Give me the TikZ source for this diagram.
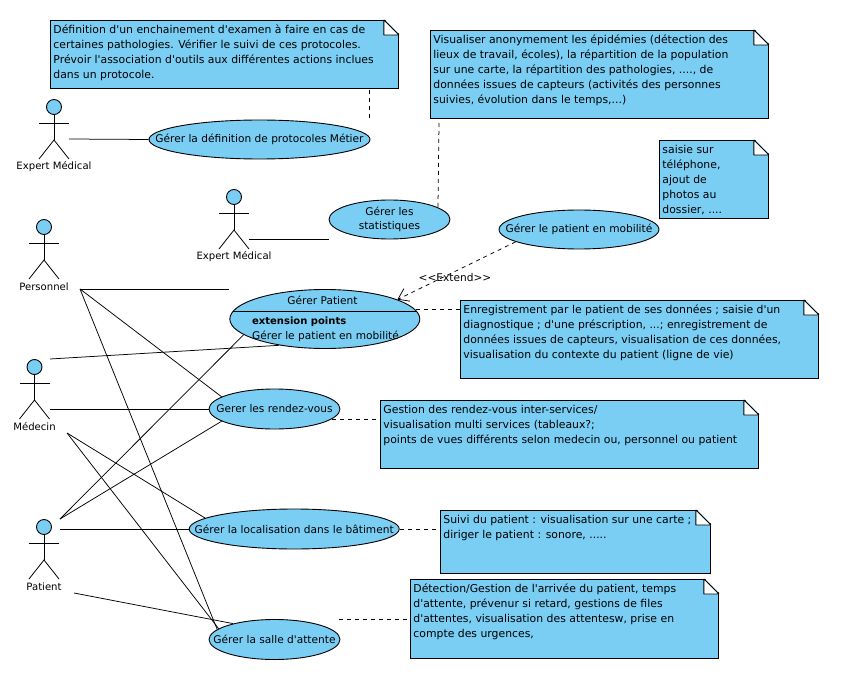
\documentclass[tikz,border=0pt]{standalone}
\usepackage{fontspec}
\newfontfamily\diafont{DejaVu Sans}
\usetikzlibrary{shapes.geometric,arrows.meta}
\definecolor{ucblue}{HTML}{7ACEF4}
\tikzset{
  txt/.style={font=\diafont\fontsize{10.6}{15}\selectfont,text=black},
  usecase/.style={ellipse,draw=black,fill=ucblue,line width=0.9pt,inner sep=0pt},
  casetext/.style={txt,inner sep=0pt,align=center},
  notebox/.style={rectangle,draw=black,fill=ucblue,line width=0.9pt,anchor=north west,inner sep=0pt,font=\diafont\fontsize{10.85}{15}\selectfont,text=black},
  fold/.style={draw=black,fill=white,line width=0.9pt,line join=bevel},
  link/.style={draw=black,line width=0.75pt},
  note link/.style={draw=black,line width=0.75pt,dash pattern=on 4pt off 4pt},
  head/.style={circle,draw=black,fill=ucblue,line width=0.9pt,minimum size=15pt,inner sep=0pt},
  actor line/.style={draw=black,line width=0.8pt},
  actor label/.style={font=\diafont\fontsize{10.1}{12}\selectfont,text=black,inner sep=0pt}
}
\newcommand{\actorfig}[4]{% name, x, head y, label
  \node[head] (#1) at (#2,#3) {};
  \draw[actor line] (#1.south) -- (#2,#3+33);
  \draw[actor line] (#2-15,#3+16) -- (#2+15,#3+16);
  \draw[actor line] (#2-15,#3+52) -- (#2,#3+33) -- (#2+15,#3+52);
  \node[actor label] (#1l) at (#2,#3+59.5) {#4};
}
\newcommand{\notefig}[6]{% name, x, y, w, h, text
  \node[notebox] (#1) at (#2,#3) {\hspace{3pt}\parbox[c][#5pt][t]{\dimexpr#4pt-3pt\relax}{\raggedright\rule{0pt}{13pt}#6}};
  \fill[white] (#1.north east) ++(-15,-1.5) -- ++(16.5,0) -- ++(0,16.5) -- cycle;
  \path[fold] (#1.north east) ++(-15,0) -- ++(15,15) -- ++(-15,0) -- cycle;
}
\newcommand{\casefig}[6]{% name, x, y, w, h, text
  \node[usecase,minimum width=#4pt,minimum height=#5pt] (#1) at (#2,#3) {};
  \node[casetext] (#1t) at (#1.center) {#6};
}
\begin{document}
\begin{tikzpicture}[x=1pt,y=-1pt]
\useasboundingbox (0,0) rectangle (856,687);
% notes
\notefig{n1}{50}{20}{348}{68}{Définition d'un enchainement d'examen à faire en cas de\\certaines pathologies. Vérifier le suivi de ces protocoles.\\Prévoir l'association d'outils aux différentes actions inclues\\dans un protocole.}
\notefig{n2}{430}{30}{338}{88}{Visualiser anonymement les épidémies (détection des\\lieux de travail, écoles), la répartition de la population\\sur une carte, la répartition des pathologies, ...., de\\données issues de capteurs (activités des personnes\\suivies, évolution dans le temps,...)}
\notefig{n3}{659}{140}{109}{78}{saisie sur\\téléphone,\\ajout de\\photos au\\dossier, ....}
\notefig{n4}{460}{300}{358}{78}{Enregistrement par le patient de ses données ; saisie d'un\\diagnostique ; d'une préscription, ...; enregistrement de\\données issues de capteurs, visualisation de ces données,\\visualisation du contexte du patient (ligne de vie)}
\notefig{n5}{380}{400}{378}{68}{Gestion des rendez-vous inter-services/\\visualisation multi services (tableaux?;\\points de vues différents selon medecin ou, personnel ou patient}
\notefig{n6}{440}{510}{270}{63}{Suivi du patient : visualisation sur une carte ;\\diriger le patient : sonore, .....}
\notefig{n7}{410}{579}{308}{79}{Détection/Gestion de l'arrivée du patient, temps\\d'attente, prévenur si retard, gestions de files\\d'attentes, visualisation des attentesw, prise en\\compte des urgences,}
% use cases
\casefig{e1}{259.5}{139.5}{221}{39}{Gérer la définition de protocoles Métier}
\casefig{e2}{389.5}{219.5}{121}{39}{Gérer les\\[-1pt]statistiques}
\casefig{e3}{579}{229.5}{160}{39}{Gérer le patient en mobilité}
\node[usecase,minimum width=190pt,minimum height=59pt] (e4) at (324.8,319) {};
\casefig{e5}{274.5}{409}{131}{40}{Gerer les rendez-vous}
\casefig{e6}{294.2}{529}{210}{40}{Gérer la localisation dans le bâtiment}
\casefig{e7}{274.5}{639.5}{131}{40}{Gérer la salle d'attente}
\draw[actor line] (e4.175) -- (e4.5);
\node[casetext] (e4a) at (322.5,300) {Gérer Patient};
\node[casetext,anchor=west,font=\diafont\fontsize{10}{15}\selectfont] (e4b) at (252,322) {\bfseries extension points};
\node[casetext,anchor=west] (e4c) at (252,336) {Gérer le patient en mobilité};
% actors
\actorfig{a1}{54}{107}{Expert Médical}
\actorfig{a2}{234}{197}{Expert Médical}
\actorfig{a3}{44}{227}{Personnel}
\actorfig{a4}{34.5}{367}{Médecin}
\actorfig{a5}{44}{527}{Patient}
% free ends
\coordinate (p1) at (69,139);
\coordinate (p2) at (249,239);
\coordinate (p3) at (80,289);
\coordinate (p3e) at (229,289);
\coordinate (m1) at (50,359);
\coordinate (m2) at (50,409);
\coordinate (m3) at (67,433);
\coordinate (t1) at (60,519);
\coordinate (t2) at (60,529);
\coordinate (t3) at (74,593);
\coordinate (d1) at (369.5,90);
\coordinate (d1e) at (369.5,120);
\coordinate (d2) at (439,123);
\coordinate (d4) at (460,309.3);
\coordinate (d4e) at (416,309.3);
\coordinate (d5) at (380,419.3);
\coordinate (d6) at (440,529);
\coordinate (d7) at (410,619);
\coordinate (d7e) at (339,619);
% associations
\draw[link] (p1) -- (e1.west);
\draw[link] (p2) -- (e2.west |- p2);
\draw[link] (p3) -- (p3e);
\draw[link] (p3) -- (e5.167.6);
\draw[link] (p3) -- (e7.170.6);
\draw[link] (m1) -- (e4.210.6);
\draw[link] (m2) -- (e5.west);
\draw[link] (m3) -- (e6.173.1);
\draw[link] (m3) -- (e7.169);
\draw[link] (t1) -- (e4.191.7);
\draw[link] (t1) -- (e5.193.4);
\draw[link] (t2) -- (e6.west);
\draw[link] (t3) -- (e7.159.5);
% note links
\draw[note link] (d1) -- (d1e);
\draw[note link] (d2) -- (e2.14.2);
\draw[note link] (d4e) -- (d4);
\draw[note link] (e5.-10 |- d5) -- (d5);
\draw[note link] (e6.east) -- (d6);
\draw[note link] (d7e) -- (d7);
% extend
\draw[note link,-{Straight Barb[length=10pt,width=14pt]}] (e3.191.7) -- (e4.15.3);
\node[txt,inner sep=0pt] (ext) at (455,278) {<<Extend>>};
\end{tikzpicture}
\end{document}
